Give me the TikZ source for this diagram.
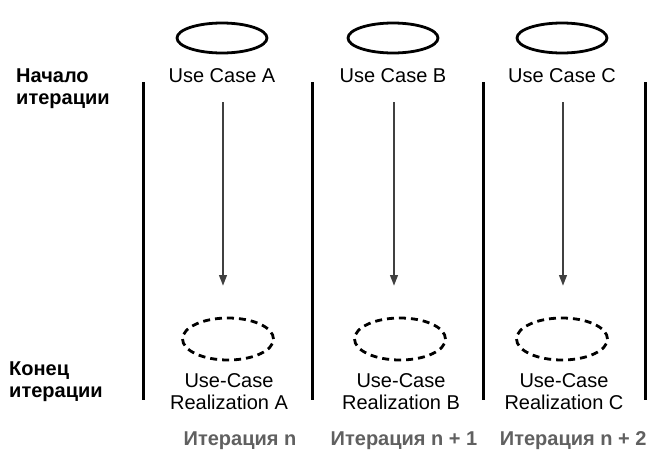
\documentclass[tikz,border=0pt]{standalone}
\usepackage{fontspec}
\setmainfont{Liberation Sans}
\usetikzlibrary{shapes.geometric,arrows.meta}

\definecolor{shaftgray}{RGB}{64,64,64}
\definecolor{itergray}{RGB}{96,96,96}

\tikzset{
	usecase/.style={ellipse,draw,line width=2.8pt,minimum width=90pt,minimum height=30pt,inner sep=0pt},
	realiz/.style={usecase,dash pattern=on 7pt off 5pt,minimum width=91pt,minimum height=42pt},
	txt/.style={font=\fontsize{20}{22}\selectfont,align=center,inner sep=0pt},
	side/.style={txt,font=\fontsize{20}{22}\selectfont\bfseries,align=left,anchor=base west},
	iterlbl/.style={txt,font=\fontsize{20}{22}\selectfont\bfseries,text=itergray,anchor=base},
	bar/.style={line width=3pt},
	flow/.style={draw=shaftgray,line width=2.4pt,-{Triangle[length=11pt,width=7.5pt]}}
}

\begin{document}
\begin{tikzpicture}[x=1pt,y=-1pt]
	\useasboundingbox (0,0) rectangle (662,450);
	% row labels (base = last line)
	\node[side] (start) at (16,104) {Начало\\итерации};
	\node[side] (finish) at (9,397) {Конец\\итерации};
	% iteration borders
	\foreach \x/\k in {143/0,312/1,483/2,645/3}
	{
		\coordinate (bt-\k) at (\x,82);
		\coordinate (bb-\k) at (\x,400);
		\draw[bar] (bt-\k) -- (bb-\k);
	}
	% one column per use case
	\foreach \c/\ux/\rx/\tx/\ix/\n in
	{
		A/222/228/229/240/{n},
		B/393/400/401/404/{n + 1},
		C/562/562/564/576/{n + 2}
	}
	{
		\node[usecase] (uc-\c) at (\ux,38) {};
		\node[txt,anchor=base] (ucl-\c) at (\ux,82) {Use Case \c};
		\coordinate (from-\c) at (\ux+1,102);
		\coordinate (to-\c) at (\ux+1,286);
		\draw[flow] (from-\c) -- (to-\c);
		\node[realiz] (re-\c) at (\rx,339) {};
		\node[txt,anchor=base] (rel-\c) at (\tx,409) {Use-Case\\Realization \c};
		\node[iterlbl] (it-\c) at (\ix,445) {Итерация \n};
	}
\end{tikzpicture}
\end{document}
